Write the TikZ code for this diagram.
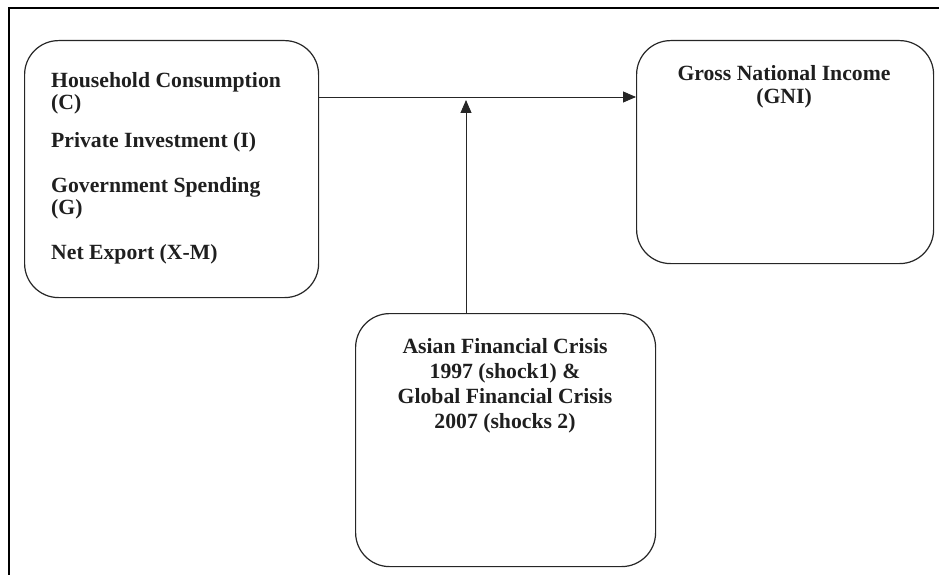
\documentclass[tikz,border=0pt]{standalone}
\usepackage{fontspec}
\setmainfont{Liberation Serif}
\usetikzlibrary{arrows.meta}
\begin{document}
\begin{tikzpicture}[x=1pt,y=-1pt,
  box/.style={draw=black!85, line width=1.2pt, rounded corners=34pt, inner sep=0pt, anchor=north west},
  lbl/.style={font=\fontsize{21.7}{22}\selectfont\bfseries, text=black!88, inner sep=0pt},
  arr/.style={draw=black!85, line width=0.9pt, -{Triangle[length=13pt,width=11pt]}},
  frame/.style={draw=black, line width=1.8pt}]
\useasboundingbox (0,0) rectangle (939,575);
\coordinate (fl) at (9,575);
\coordinate (fc) at (9,8);
\coordinate (fr) at (939,8);
\draw[frame] (fl) -- (fc) -- (fr);
% boxes
\node[box, minimum width=294pt, minimum height=257pt] (comp) at (24,40) {};
\node[box, minimum width=297pt, minimum height=223pt] (gni) at (636,40) {};
\node[box, minimum width=300pt, minimum height=253pt] (crisis) at (355,313) {};
% left texts
\node[lbl, anchor=base west] (t1) at (51,88) {Household Consumption};
\node[lbl, anchor=base west] (t2) at (51,110) {(C)};
\node[lbl, anchor=base west] (t3) at (51,147) {Private Investment (I)};
\node[lbl, anchor=base west] (t4) at (51,192) {Government Spending};
\node[lbl, anchor=base west] (t5) at (51,214) {(G)};
\node[lbl, anchor=base west] (t6) at (51,259) {Net Export (X-M)};
% right texts
\node[lbl, anchor=base] (g1) at (784,81) {Gross National Income};
\node[lbl, anchor=base] (g2) at (784,104) {(GNI)};
% bottom texts
\node[lbl, anchor=base] (c1) at (505,353) {Asian Financial Crisis};
\node[lbl, anchor=base] (c2) at (505,378) {1997 (shock1) \&};
\node[lbl, anchor=base] (c3) at (505,403) {Global Financial Crisis};
\node[lbl, anchor=base] (c4) at (505,428) {2007 (shocks 2)};
% connectors
\coordinate (junc) at (466,97);
\draw[arr] (comp.east |- junc) -- (gni.west |- junc);
\draw[arr] (crisis.north -| junc) -- ([yshift=-3pt]junc);
\end{tikzpicture}
\end{document}
